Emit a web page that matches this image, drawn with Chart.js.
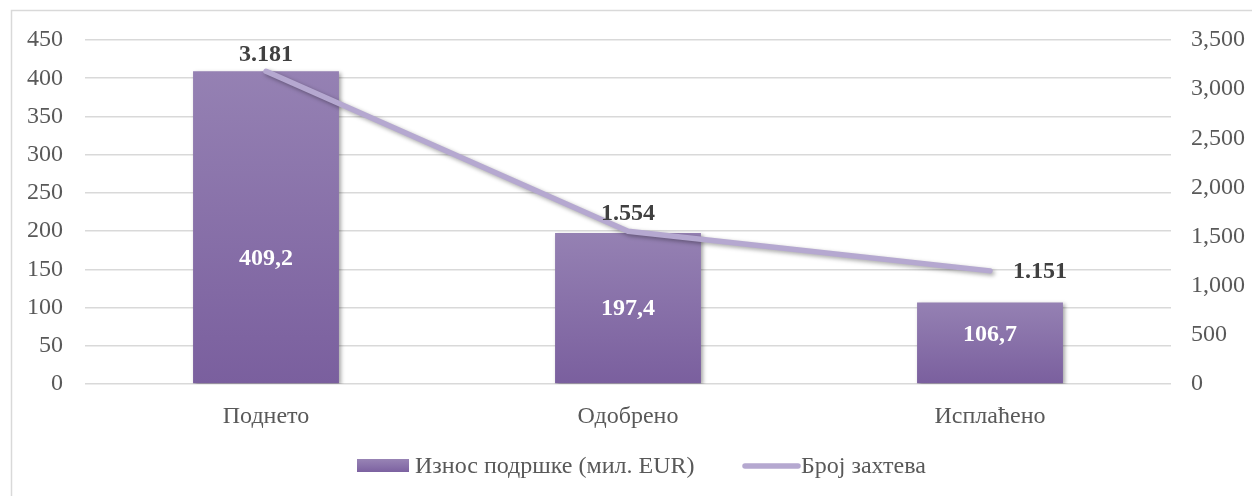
<!DOCTYPE html>
<html>
<head>
<meta charset="utf-8">
<script src="https://cdn.jsdelivr.net/npm/chart.js@4.4.1/dist/chart.umd.min.js"></script>
<style>
html,body{margin:0;padding:0;background:#fff;}
#wrap{width:1252px;height:496px;position:relative;}
</style>
</head>
<body>
<div id="wrap"><canvas id="c" width="1252" height="496"></canvas></div>
<script>
const categories = ['Поднето', 'Одобрено', 'Исплаћено'];
const amountValues = [409.2, 197.4, 106.7];
const amountLabels = ['409,2', '197,4', '106,7'];
const requestValues = [3181, 1554, 1151];
const requestLabels = ['3.181', '1.554', '1.151'];
const seriesNames = ['Износ подршке (мил. EUR)', 'Број захтева'];

const FONT = '"Liberation Serif", "Times New Roman", serif';
const TXT = '#595959';
const FS = 24;

const frame = {
  id: 'frame',
  beforeDraw(chart) {
    const ctx = chart.ctx;
    ctx.save();
    ctx.fillStyle = '#fff';
    ctx.fillRect(0, 0, chart.width, chart.height);
    ctx.strokeStyle = '#d9d9d9';
    ctx.lineWidth = 1.5;
    ctx.strokeRect(11.5, 10.5, 1400, 700);
    ctx.restore();
  }
};

const shadow = {
  id: 'shadow',
  beforeDatasetDraw(chart, args) {
    const ctx = chart.ctx;
    ctx.save();
    ctx.shadowColor = 'rgba(0,0,0,0.35)';
    ctx.shadowBlur = 4;
    ctx.shadowOffsetX = 2;
    ctx.shadowOffsetY = 2;
  },
  afterDatasetDraw(chart) {
    chart.ctx.restore();
  }
};

const labels = {
  id: 'labels',
  afterDatasetsDraw(chart) {
    const ctx = chart.ctx;
    ctx.save();
    const barMeta = chart.getDatasetMeta(0);
    ctx.font = 'bold ' + FS + 'px ' + FONT;
    ctx.fillStyle = '#ffffff';
    ctx.textAlign = 'center';
    ctx.textBaseline = 'middle';
    const barShift = [32, 1, -8];
    barMeta.data.forEach((el, i) => {
      const y = (el.y + el.base) / 2 + barShift[i];
      ctx.fillText(amountLabels[i], el.x, y);
    });
    const lineMeta = chart.getDatasetMeta(1);
    ctx.fillStyle = '#404040';
    lineMeta.data.forEach((el, i) => {
      if (i === lineMeta.data.length - 1) {
        ctx.textAlign = 'left';
        ctx.fillText(requestLabels[i], el.x + 23, el.y + 1);
      } else {
        ctx.textAlign = 'center';
        ctx.fillText(requestLabels[i], el.x, el.y - 17);
      }
    });
    ctx.restore();
  }
};

const legendPlugin = {
  id: 'customLegend',
  afterDraw(chart) {
    const ctx = chart.ctx;
    ctx.save();
    const y = 466;
    const g = ctx.createLinearGradient(0, y - 7, 0, y + 7);
    g.addColorStop(0, '#9884b5');
    g.addColorStop(1, '#7a5f9f');
    ctx.fillStyle = g;
    ctx.fillRect(357, y - 7, 52, 13);
    ctx.font = FS + 'px ' + FONT;
    ctx.fillStyle = TXT;
    ctx.textAlign = 'left';
    ctx.textBaseline = 'middle';
    ctx.fillText(seriesNames[0], 415, y + 1);
    ctx.strokeStyle = '#b5a8d0';
    ctx.lineWidth = 5.5;
    ctx.lineCap = 'round';
    ctx.beginPath();
    ctx.moveTo(745, y);
    ctx.lineTo(798, y);
    ctx.stroke();
    ctx.fillText(seriesNames[1], 801, y + 1);
    ctx.restore();
  }
};

function barGradient(context) {
  const chart = context.chart;
  const { chartArea, scales } = chart;
  if (!chartArea) return '#8a72ad';
  const v = context.raw;
  const top = scales.y.getPixelForValue(v);
  const bottom = scales.y.getPixelForValue(0);
  const g = chart.ctx.createLinearGradient(0, top, 0, bottom);
  g.addColorStop(0, '#9581b3');
  g.addColorStop(1, '#7a5f9e');
  return g;
}

new Chart(document.getElementById('c'), {
  data: {
    labels: categories,
    datasets: [
      {
        type: 'bar',
        label: seriesNames[0],
        data: amountValues,
        backgroundColor: barGradient,
        borderWidth: 0,
        yAxisID: 'y',
        order: 1,
        barPercentage: 0.403,
        categoryPercentage: 1
      },
      {
        type: 'line',
        label: seriesNames[1],
        data: requestValues,
        borderColor: '#b5a8d0',
        borderWidth: 5.5,
        borderCapStyle: 'round',
        borderJoinStyle: 'round',
        pointRadius: 0,
        pointHoverRadius: 0,
        tension: 0,
        yAxisID: 'y1',
        order: 0
      }
    ]
  },
  options: {
    responsive: false,
    animation: false,
    events: [],
    layout: { padding: { top: 40, bottom: 62, left: 0, right: 0 } },
    plugins: {
      legend: { display: false },
      tooltip: { enabled: false }
    },
    scales: {
      x: {
        grid: { display: false },
        border: { display: false },
        ticks: { color: TXT, font: { family: FONT, size: FS }, padding: 10 },
        afterFit(s) { s.height = 50; }
      },
      y: {
        position: 'left',
        min: 0, max: 450,
        ticks: { stepSize: 50, color: TXT, font: { family: FONT, size: FS }, padding: 22 },
        grid: { color: '#d9d9d9', lineWidth: 1.5, drawTicks: false },
        border: { display: false },
        afterFit(s) { s.width = 85; }
      },
      y1: {
        position: 'right',
        min: 0, max: 3500,
        ticks: {
          stepSize: 500, color: TXT, font: { family: FONT, size: FS }, padding: 20,
          callback: v => v.toLocaleString('en-US')
        },
        grid: { display: false, drawTicks: false },
        border: { display: false },
        afterFit(s) { s.width = 81; }
      }
    }
  },
  plugins: [frame, shadow, labels, legendPlugin]
});
</script>
</body>
</html>
